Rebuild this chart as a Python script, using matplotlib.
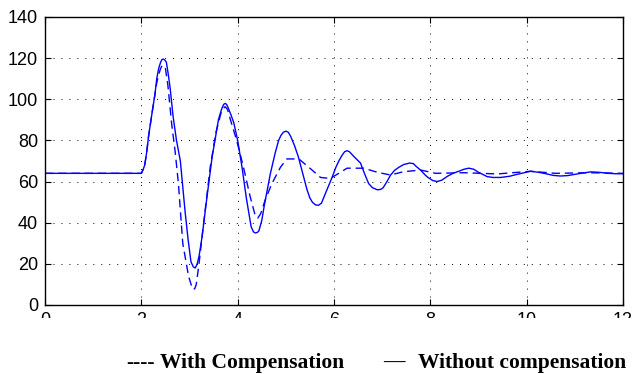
import matplotlib
matplotlib.use("Agg")
import matplotlib.pyplot as plt
from matplotlib.patches import Rectangle

# without compensation (solid)
t_wo = [0, 2.0, 2.04, 2.07, 2.11, 2.15, 2.22, 2.28, 2.32, 2.36, 2.40, 2.43, 2.46, 2.49,
        2.52, 2.56, 2.60, 2.66, 2.73, 2.81, 2.91, 2.97,
        3.03, 3.08, 3.12, 3.16, 3.20, 3.26, 3.36, 3.47, 3.55, 3.60, 3.65, 3.68, 3.71,
        3.74, 3.77, 3.80, 3.86, 3.92, 4.00, 4.09,
        4.18, 4.28, 4.33, 4.37, 4.41, 4.44, 4.50, 4.55, 4.68, 4.78, 4.85, 4.90, 4.95,
        5.00, 5.05, 5.10, 5.18, 5.26, 5.35, 5.44, 5.50, 5.55,
        5.62, 5.68, 5.74, 5.80, 5.88, 5.96, 6.04, 6.10, 6.16, 6.22, 6.27, 6.32, 6.42,
        6.55, 6.64, 6.72, 6.80, 6.90, 6.97, 7.02, 7.10, 7.17, 7.26, 7.35,
        7.45, 7.57, 7.65, 7.70, 7.80, 7.88, 7.95, 8.05, 8.14, 8.24, 8.35, 8.47, 8.59,
        8.70, 8.80, 8.90, 9.00, 9.18, 9.30, 9.46, 9.65, 9.80, 9.95, 10.08,
        10.25, 10.40, 10.55, 10.70, 10.85, 11.00, 11.15, 11.33, 11.50, 11.70, 11.85, 12.0]
y_wo = [64, 64, 66, 68, 74, 82, 93, 102, 110, 115, 118, 119.4, 119.5, 119,
        118, 112, 105, 91.5, 80, 70, 45, 32,
        21, 18.5, 18, 20, 24, 33, 52, 72, 83, 90, 94, 96, 97.5,
        98, 97.5, 96, 92.5, 88.5, 80, 67,
        52, 38, 35.5, 35, 35.3, 36, 41, 48, 64, 74, 80, 82.5, 84,
        84.5, 84, 82, 77.5, 72, 64, 56, 52, 50,
        48.6, 48.5, 49.5, 53, 57.5, 62, 67, 70, 72.5, 74.5, 75, 74.5, 72,
        69, 63.5, 59, 57, 56, 56.2, 57, 60, 63, 65.5, 67,
        68.3, 69, 68.7, 67.5, 65.5, 63.5, 62, 60.5, 60, 60.7, 62.5, 64, 65,
        66, 66.5, 66, 64.5, 62.4, 62, 62, 62.6, 63.5, 64.3, 65,
        64.5, 63.8, 63, 62.7, 62.9, 63.5, 64.1, 64.7, 64.5, 64, 63.8, 63.8]

# with compensation (dashed)
t_w = [0, 2.0, 2.04, 2.07, 2.11, 2.15, 2.22, 2.28, 2.32, 2.36, 2.40, 2.43, 2.46, 2.50,
       2.55, 2.63, 2.70, 2.77, 2.86,
       2.98, 3.04, 3.08, 3.11, 3.14, 3.19, 3.26, 3.35, 3.43, 3.55, 3.65, 3.70, 3.74,
       3.79, 3.85, 3.98, 4.12, 4.26,
       4.37, 4.42, 4.48, 4.57, 4.71, 4.89, 5.02, 5.27, 5.50, 5.72, 5.92, 6.10, 6.27,
       6.62, 6.90, 7.17, 7.45, 7.80, 8.11, 8.70, 9.39, 10.08, 10.6, 11.3, 12.0]
y_w = [64, 64, 66, 68, 74, 82, 93, 102, 108, 112, 115, 116.3, 116.5, 115,
       107, 88, 75, 59, 30,
       14, 9.5, 7.5, 8, 10, 18.6, 33, 51, 67, 84, 93, 95.5, 96.4,
       95, 90, 80, 67, 52.6,
       43, 42.3, 44.5, 51, 59, 67, 71, 71, 66.5, 62, 61.5, 64, 66.5,
       66.5, 64.5, 63.2, 64.8, 65.6, 64, 64.3, 63.7, 65, 64, 64.3, 64]

xticks = [0, 2, 4, 6, 8, 10, 12]
yticks = [0, 20, 40, 60, 80, 100, 120, 140]

fig = plt.figure(figsize=(6.33, 3.74), dpi=100)
ax = fig.add_axes([0.0711, 0.1845, 0.9131, 0.7701])

ax.plot(t_wo, y_wo, color="#0000ff", lw=1.0)
ax.plot(t_w, y_w, color="#0000ff", lw=1.0, dashes=(6, 3.5))

ax.set_xlim(0, 12)
ax.set_ylim(0, 140)
ax.set_xticks(xticks)
ax.set_yticks(yticks)
ax.grid(True, color="black", linestyle=(0, (1, 7.2)), lw=0.7)
ax.tick_params(direction="in", length=4.3, top=True, right=True,
               labelsize=13, pad=5)
for lab in ax.get_xticklabels() + ax.get_yticklabels():
    lab.set_fontfamily("Liberation Sans")
for s in ax.spines.values():
    s.set_linewidth(1.0)

# the original is cut off just under the axis
fig.patches.append(Rectangle((0, 0), 1, (374 - 318) / 374, transform=fig.transFigure,
                             facecolor="white", edgecolor="none", zorder=10))

leg = dict(family="Liberation Serif", weight="bold", fontsize=15.5, va="center", zorder=11)
fig.text(126 / 633, 0.03, "----", **leg)
fig.text(160 / 633, 0.03, "With Compensation", **leg)
fig.text(383 / 633, 0.03, "\u2014", **leg)
fig.text(418 / 633, 0.03, "Without compensation", **leg)

fig.savefig("out.png", dpi=100)
